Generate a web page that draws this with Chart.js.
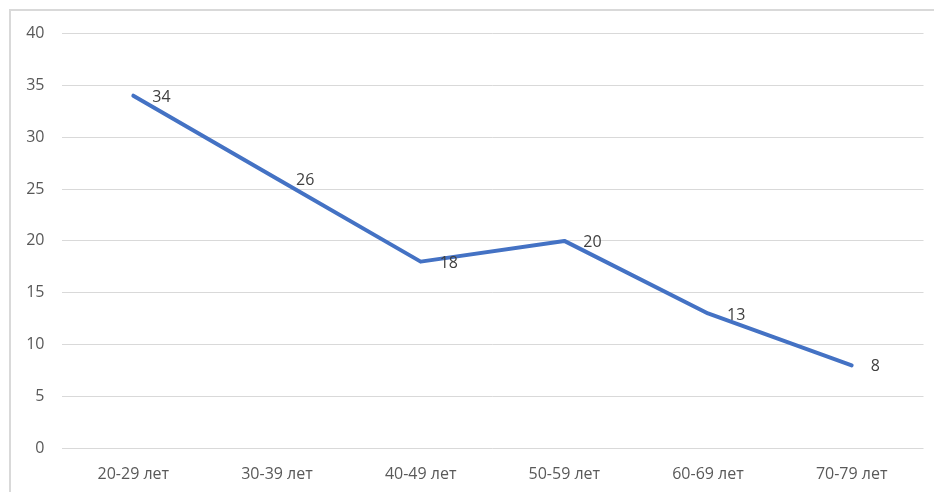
<!DOCTYPE html>
<html>
<head>
<meta charset="utf-8">
<script src="https://cdn.jsdelivr.net/npm/chart.js@4/dist/chart.umd.min.js"></script>
<style>
  html, body { margin: 0; padding: 0; background: #ffffff; }
  #wrap { width: 934px; height: 492px; position: relative; }
</style>
</head>
<body>
<div id="wrap"><canvas id="c" width="934" height="492"></canvas></div>
<script>
// Age groups and counts
const categories = ['20-29 лет', '30-39 лет', '40-49 лет', '50-59 лет', '60-69 лет', '70-79 лет'];
const counts = [34, 26, 18, 20, 13, 8];
const yTicks = [0, 5, 10, 15, 20, 25, 30, 35, 40];

const FONT = '"Open Sans", "Noto Sans", sans-serif';

// White background and the light frame around the chart
const framePlugin = {
  id: 'frame',
  beforeDraw(chart) {
    const ctx = chart.ctx;
    ctx.save();
    ctx.fillStyle = '#ffffff';
    ctx.fillRect(0, 0, chart.width, chart.height);
    ctx.strokeStyle = '#d9d9d9';
    ctx.lineWidth = 2;
    ctx.beginPath();
    ctx.moveTo(10, chart.height);
    ctx.lineTo(10, 10);
    ctx.lineTo(chart.width, 10);
    ctx.stroke();
    ctx.restore();
  }
};

// Value labels placed to the right of each point
const valueLabels = {
  id: 'valueLabels',
  afterDatasetsDraw(chart) {
    const ctx = chart.ctx;
    const meta = chart.getDatasetMeta(0);
    const data = chart.data.datasets[0].data;
    ctx.save();
    ctx.font = '16px ' + FONT;
    ctx.fillStyle = '#404040';
    ctx.textAlign = 'left';
    ctx.textBaseline = 'middle';
    meta.data.forEach((pt, i) => {
      ctx.fillText(String(data[i]), pt.x + 19, pt.y + 1.5);
    });
    ctx.restore();
  }
};

new Chart(document.getElementById('c'), {
  type: 'line',
  data: {
    labels: categories,
    datasets: [{
      data: counts,
      borderColor: '#4472C4',
      borderWidth: 4,
      borderCapStyle: 'round',
      borderJoinStyle: 'round',
      pointRadius: 0,
      pointHoverRadius: 0,
      tension: 0,
      fill: false
    }]
  },
  options: {
    responsive: false,
    animation: false,
    devicePixelRatio: 1,
    layout: { padding: { top: 33.5, right: 10.5, left: 0, bottom: 0 } },
    plugins: {
      legend: { display: false },
      tooltip: { enabled: false }
    },
    scales: {
      x: {
        offset: true,
        grid: { display: false, drawTicks: false, offset: true },
        border: { display: false },
        ticks: {
          color: '#595959',
          font: { family: FONT, size: 16 },
          padding: 17,
          maxRotation: 0,
          autoSkip: false
        },
        afterFit(scale) { scale.height = 43.7; }
      },
      y: {
        min: 0,
        max: 40,
        afterBuildTicks(scale) { scale.ticks = yTicks.map(v => ({ value: v })); },
        grid: { color: '#d9d9d9', lineWidth: 1, drawTicks: false },
        border: { display: false },
        ticks: {
          color: '#595959',
          font: { family: FONT, size: 16 },
          padding: 17
        },
        afterFit(scale) { scale.width = 61.5; }
      }
    }
  },
  plugins: [framePlugin, valueLabels]
});
</script>
</body>
</html>
